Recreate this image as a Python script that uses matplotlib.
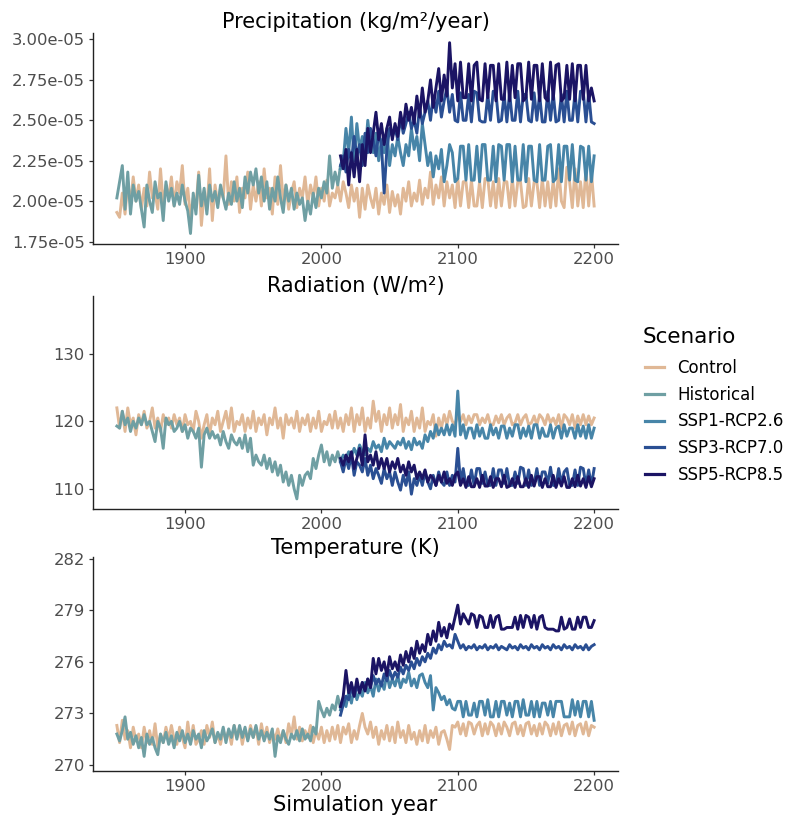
"""
Climate forcing time series (precipitation, radiation, temperature)
for the control, historical and SSP scenarios, stacked in three panels.
"""
import matplotlib
matplotlib.use("Agg")
import matplotlib.pyplot as plt
import numpy as np
from matplotlib.lines import Line2D
from matplotlib.ticker import FormatStrFormatter

# ---- data (2-year steps) ----
ctrl_years = np.arange(1850, 2201, 2)
hist_years = np.arange(1850, 2015, 2)
ssp_years = np.arange(2014, 2201, 2)

scenarios = ["Control", "Historical", "SSP1-RCP2.6", "SSP3-RCP7.0", "SSP5-RCP8.5"]
colors = ["#E0B896", "#6F9FA3", "#4785A8", "#2A4F93", "#1B1464"]

# precipitation, in units of 1e-5 kg/m2/year
prec_ctrl = [
    1.93, 1.90, 2.05, 1.92, 2.12, 1.98, 2.15, 2.00, 2.10, 1.95,
    2.08, 1.97, 2.18, 2.02, 2.05, 1.95, 2.20, 1.98, 2.10, 2.02,
    2.15, 1.97, 2.12, 2.05, 2.22, 1.98, 2.08, 1.90, 2.02, 1.96,
    2.18, 1.85, 2.05, 1.95, 2.20, 1.88, 2.10, 1.98, 2.08, 2.02,
    2.28, 1.98, 2.12, 2.00, 2.15, 1.93, 2.08, 2.02, 2.18, 1.95,
    2.10, 2.00, 2.12, 1.97, 2.20, 2.02, 2.08, 1.92, 2.15, 1.98,
    2.22, 2.00, 2.10, 1.95, 2.05, 2.12, 1.96, 2.08, 2.02, 2.15,
    1.98, 2.10, 2.02, 2.15, 1.97, 2.08, 2.00, 2.13, 1.97, 2.05,
    2.02, 2.10, 2.00, 2.12, 2.05, 1.96, 2.10, 2.00, 2.08, 1.90,
    2.08, 1.95, 2.10, 2.02, 1.96, 2.08, 1.92, 2.05, 1.98, 2.10,
    1.93, 2.06, 1.97, 2.04, 1.92, 2.08, 2.00, 2.12, 1.97, 2.05,
    2.00, 2.13, 1.98, 2.08, 2.02, 2.18, 1.98, 2.10, 2.02, 2.15,
    1.97, 2.12, 2.02, 2.10, 1.96, 2.14, 1.97, 2.12, 2.12, 1.96,
    2.13, 1.97, 1.97, 2.12, 1.96, 2.14, 2.14, 1.97, 2.12, 1.96,
    2.14, 1.97, 2.12, 2.12, 1.96, 2.14, 1.97, 2.12, 2.12, 1.96,
    1.97, 2.14, 1.97, 2.12, 2.12, 1.96, 2.14, 1.97, 2.12, 1.96,
    2.13, 1.97, 2.20, 2.00, 1.96, 2.21, 2.12, 1.96, 2.20, 1.97,
    2.12, 1.96, 2.20, 1.97, 2.18, 1.97]
prec_hist = [
    2.02, 2.12, 2.22, 1.95, 2.18, 1.92, 2.10, 2.00, 2.06, 1.95,
    1.84, 2.10, 2.00, 1.93, 2.12, 2.02, 2.05, 1.88, 2.12, 2.00,
    2.08, 1.97, 2.05, 1.98, 2.10, 2.00, 1.94, 1.80, 2.05, 1.92,
    2.16, 1.97, 2.08, 1.92, 2.10, 2.00, 2.06, 1.96, 2.10, 2.02,
    1.95, 2.05, 1.98, 2.12, 2.00, 2.08, 1.96, 2.15, 2.05, 2.18,
    2.10, 2.20, 2.05, 2.15, 2.00, 2.12, 1.95, 2.08, 2.00, 2.15,
    2.02, 1.93, 2.10, 2.00, 2.08, 1.95, 2.05, 1.98, 2.02, 1.88,
    2.00, 1.92, 2.05, 1.96, 2.08, 2.02, 2.12, 2.05, 2.28, 2.08,
    2.18, 2.10, 2.22]
prec_ssp1 = [
    2.20, 2.24, 2.45, 2.30, 2.52, 2.25, 2.48, 2.32, 2.40, 2.28,
    2.50, 2.35, 2.30, 2.42, 2.25, 2.38, 2.30, 2.45, 2.22, 2.35,
    2.28, 2.40, 2.30, 2.22, 2.35, 2.28, 2.45, 2.32, 2.40, 2.25,
    2.48, 2.35, 2.22, 2.30, 2.15, 2.28, 2.20, 2.32, 2.12, 2.22,
    2.35, 2.30, 2.12, 2.14, 2.34, 2.34, 2.13, 2.35, 2.13, 2.13,
    2.34, 2.12, 2.35, 2.35, 2.13, 2.13, 2.34, 2.12, 2.35, 2.34,
    2.13, 2.35, 2.35, 2.12, 2.34, 2.13, 2.13, 2.35, 2.12, 2.34,
    2.34, 2.13, 2.12, 2.35, 2.13, 2.13, 2.34, 2.35, 2.12, 2.14,
    2.35, 2.12, 2.34, 2.34, 2.13, 2.35, 2.13, 2.12, 2.34, 2.33,
    2.13, 2.34, 2.12, 2.28]
prec_ssp3 = [
    2.22, 2.28, 2.18, 2.32, 2.25, 2.40, 2.28, 2.35, 2.22, 2.42,
    2.30, 2.45, 2.38, 2.28, 2.42, 2.35, 2.05, 2.32, 2.45, 2.40,
    2.45, 2.38, 2.52, 2.42, 2.48, 2.55, 2.45, 2.50, 2.42, 2.58,
    2.48, 2.55, 2.62, 2.50, 2.65, 2.55, 2.68, 2.52, 2.62, 2.70,
    2.55, 2.66, 2.50, 2.49, 2.67, 2.50, 2.50, 2.66, 2.49, 2.68,
    2.67, 2.50, 2.49, 2.49, 2.66, 2.50, 2.68, 2.67, 2.49, 2.50,
    2.66, 2.49, 2.67, 2.50, 2.50, 2.68, 2.49, 2.66, 2.66, 2.50,
    2.49, 2.67, 2.50, 2.66, 2.49, 2.49, 2.68, 2.50, 2.67, 2.49,
    2.50, 2.66, 2.49, 2.68, 2.50, 2.50, 2.67, 2.49, 2.68, 2.68,
    2.49, 2.67, 2.49, 2.48]
prec_ssp5 = [
    2.28, 2.20, 2.32, 2.10, 2.30, 2.15, 2.32, 2.12, 2.35, 2.22,
    2.45, 2.30, 2.42, 2.55, 2.38, 2.48, 2.35, 2.45, 2.52, 2.38,
    2.48, 2.40, 2.55, 2.45, 2.60, 2.50, 2.58, 2.48, 2.65, 2.52,
    2.70, 2.55, 2.62, 2.75, 2.58, 2.70, 2.82, 2.62, 2.78, 2.65,
    2.98, 2.70, 2.85, 2.62, 2.86, 2.64, 2.64, 2.85, 2.62, 2.84,
    2.86, 2.63, 2.62, 2.85, 2.64, 2.84, 2.84, 2.62, 2.85, 2.63,
    2.63, 2.86, 2.62, 2.84, 2.64, 2.85, 2.85, 2.62, 2.64, 2.86,
    2.63, 2.84, 2.84, 2.62, 2.85, 2.64, 2.62, 2.86, 2.63, 2.84,
    2.85, 2.62, 2.64, 2.84, 2.63, 2.85, 2.62, 2.84, 2.84, 2.63,
    2.84, 2.62, 2.70, 2.62]

# radiation, W/m2
rad_ctrl = [
    122.0, 119.0, 121.5, 118.5, 122.0, 119.5, 120.5, 118.0, 121.0, 119.5,
    121.5, 119.0, 120.0, 122.0, 119.0, 120.5, 118.5, 121.0, 119.5, 120.5,
    119.0, 121.0, 119.5, 120.5, 118.5, 121.0, 119.5, 120.0, 118.5, 121.5,
    120.0, 117.5, 119.5, 121.0, 118.0, 120.5, 119.5, 121.5, 118.5, 120.0,
    121.5, 119.0, 122.0, 118.5, 120.0, 119.5, 121.0, 118.5, 120.5, 119.0,
    121.5, 118.5, 120.5, 119.5, 121.0, 118.0, 120.5, 119.5, 122.0, 119.0,
    120.5, 117.5, 121.0, 119.5, 120.5, 119.0, 121.5, 118.5, 120.5, 119.5,
    121.0, 118.5, 120.5, 119.0, 121.5, 118.5, 120.0, 119.5, 121.0, 119.0,
    121.5, 119.0, 120.5, 118.5, 121.0, 119.5, 122.0, 118.5, 121.0, 119.5,
    122.0, 118.5, 120.5, 119.0, 123.0, 120.0, 121.5, 118.5, 121.0, 119.5,
    122.0, 119.0, 121.0, 119.5, 122.5, 118.5, 120.5, 119.5, 121.5, 118.5,
    120.5, 119.0, 122.0, 118.5, 120.0, 119.5, 121.0, 117.8, 120.5, 119.0,
    121.0, 119.5, 121.5, 120.0, 119.5, 121.0, 120.0, 121.0, 119.5, 120.8,
    119.8, 121.0, 121.0, 119.5, 120.5, 119.8, 121.0, 119.5, 119.5, 120.8,
    119.8, 121.0, 119.5, 120.5, 121.0, 119.5, 119.8, 121.0, 119.5, 120.5,
    121.0, 119.5, 119.8, 120.8, 119.5, 121.0, 120.5, 119.5, 121.0, 119.8,
    120.5, 119.5, 121.0, 119.0, 121.0, 120.5, 119.5, 121.0, 119.0, 120.8,
    119.5, 121.0, 119.5, 120.8, 119.5, 120.5]
rad_hist = [
    119.3, 119.0, 121.5, 119.5, 120.5, 118.5, 120.0, 119.0, 120.5, 119.5,
    121.0, 119.5, 120.0, 118.5, 117.0, 120.0, 119.0, 116.0, 120.5, 119.5,
    120.0, 118.5, 119.0, 120.0, 118.5, 119.5, 117.5, 119.0, 118.5, 117.5,
    119.0, 113.2, 118.0, 119.0, 117.5, 118.5, 117.5, 118.0, 116.5, 118.5,
    117.0, 116.0, 118.0, 117.0, 116.5, 117.5, 116.0, 118.0, 115.5, 117.5,
    113.5, 115.0, 114.0, 113.5, 115.0, 113.0, 114.5, 112.5, 114.0, 112.0,
    113.5, 111.0, 112.5, 110.5, 112.0, 110.0, 108.5, 112.0, 110.5, 112.0,
    112.5, 111.5, 114.5, 113.0, 115.0, 116.5, 114.0, 115.5, 113.5, 115.0,
    114.0, 115.5, 114.0]
rad_ssp1 = [
    114.0, 115.0, 114.5, 115.5, 114.8, 116.0, 115.0, 116.5, 115.5, 115.0,
    116.0, 115.5, 117.0, 116.0, 116.5, 115.5, 117.5, 116.0, 117.0, 116.5,
    116.0, 117.0, 116.5, 117.5, 116.0, 117.0, 115.8, 117.5, 116.5, 117.0,
    116.0, 118.0, 117.0, 118.5, 117.5, 119.5, 118.0, 119.0, 118.0, 119.5,
    118.0, 119.5, 117.8, 124.5, 118.0, 119.5, 117.5, 119.0, 119.0, 117.5,
    119.5, 117.8, 119.0, 117.5, 117.5, 119.5, 118.0, 119.0, 117.5, 119.3,
    119.3, 117.5, 119.0, 117.8, 119.5, 119.5, 117.5, 119.0, 117.8, 119.3,
    117.5, 119.5, 119.5, 117.5, 119.0, 117.8, 117.8, 119.5, 117.5, 119.0,
    119.3, 117.5, 119.5, 117.8, 119.0, 119.0, 117.5, 119.5, 117.8, 119.3,
    117.5, 119.5, 117.5, 119.0]
rad_ssp3 = [
    114.0, 112.5, 114.5, 113.0, 115.0, 112.0, 114.0, 113.5, 112.5, 114.5,
    112.0, 113.5, 111.5, 113.0, 112.0, 110.8, 113.0, 111.5, 112.5, 110.5,
    112.5, 111.0, 109.8, 112.0, 110.5, 112.5, 109.2, 111.5, 110.5, 112.0,
    110.5, 112.5, 111.0, 110.0, 112.0, 110.5, 112.5, 111.0, 110.5, 112.5,
    110.5, 112.0, 111.0, 116.0, 111.0, 113.0, 110.5, 110.5, 112.8, 110.5,
    113.0, 113.0, 110.8, 112.5, 110.5, 110.5, 113.0, 110.5, 112.8, 112.8,
    110.8, 113.0, 110.5, 110.5, 112.5, 110.8, 113.2, 113.0, 110.5, 112.8,
    110.5, 110.8, 113.0, 110.5, 112.5, 112.5, 110.8, 113.2, 110.5, 110.5,
    113.0, 110.8, 112.5, 113.0, 110.5, 110.5, 112.8, 110.5, 113.2, 113.0,
    110.5, 112.8, 110.5, 113.0]
rad_ssp5 = [
    114.5, 113.5, 115.0, 114.0, 115.5, 113.0, 114.5, 116.0, 113.5, 118.0,
    114.0, 115.0, 113.5, 115.5, 113.0, 114.5, 113.0, 114.5, 112.5, 114.0,
    113.0, 114.5, 112.5, 113.5, 112.0, 114.0, 112.5, 113.5, 111.5, 112.5,
    111.5, 112.8, 111.0, 112.0, 111.5, 110.5, 112.0, 111.0, 112.5, 110.8,
    111.5, 110.5, 112.0, 112.5, 110.5, 111.5, 110.2, 111.8, 110.3, 110.3,
    111.5, 110.2, 112.0, 110.4, 110.4, 111.8, 110.2, 111.5, 111.5, 110.3,
    112.0, 110.2, 110.4, 111.5, 110.2, 111.8, 110.3, 110.3, 111.5, 110.2,
    112.0, 110.4, 111.8, 111.8, 110.2, 111.5, 110.3, 110.3, 112.0, 110.2,
    111.5, 110.4, 111.8, 110.2, 110.2, 111.5, 110.3, 112.0, 110.4, 111.5,
    110.2, 111.8, 110.3, 111.5]

# temperature, K
temp_ctrl = [
    272.3, 271.3, 272.6, 271.5, 272.0, 271.0, 272.2, 271.4, 271.8, 271.0,
    272.2, 271.3, 272.0, 271.2, 272.4, 271.0, 271.8, 271.3, 272.2, 271.5,
    272.3, 271.5, 271.2, 272.2, 271.6, 271.0, 272.5, 271.3, 272.3, 271.2,
    271.5, 272.0, 271.2, 272.3, 271.6, 272.5, 271.3, 271.8, 271.2, 272.0,
    271.5, 272.0, 271.2, 272.3, 271.6, 272.2, 271.2, 272.0, 271.5, 272.3,
    271.6, 272.2, 271.2, 272.4, 271.5, 272.2, 271.3, 271.9, 271.5, 272.1,
    271.4, 272.0, 271.3, 272.4, 271.7, 272.8, 271.5, 272.2, 271.4, 272.0,
    271.6, 272.3, 271.3, 272.0, 271.5, 272.2, 271.3, 272.0, 271.4, 272.2,
    271.5, 272.3, 271.3, 272.2, 271.8, 272.4, 271.3, 272.0, 271.5, 272.3,
    273.0, 272.2, 271.8, 272.5, 271.6, 272.2, 271.2, 272.0, 271.5, 272.3,
    271.4, 272.2, 271.3, 272.5, 271.6, 272.0, 271.3, 272.3, 271.5, 271.9,
    271.2, 272.0, 271.4, 272.3, 271.3, 272.0, 271.6, 272.2, 271.2, 271.9,
    272.0, 271.5, 270.9, 272.3, 272.2, 272.5, 271.8, 272.4, 271.7, 272.5,
    272.4, 271.8, 272.3, 272.5, 271.7, 272.4, 271.8, 272.5, 272.3, 271.7,
    272.4, 271.8, 272.5, 272.2, 271.7, 272.4, 272.5, 271.8, 272.3, 271.7,
    272.4, 272.5, 271.8, 272.3, 271.7, 272.4, 271.8, 272.5, 272.3, 271.7,
    272.4, 271.8, 272.5, 271.7, 272.3, 272.4, 271.8, 272.5, 271.7, 272.3,
    272.4, 271.8, 272.5, 271.7, 272.3, 272.2]
temp_hist = [
    271.8, 271.4, 272.0, 272.8, 271.5, 271.9, 271.2, 271.7, 271.0, 271.6,
    270.5, 271.8, 271.2, 271.6, 271.0, 270.6, 271.8, 271.3, 271.9, 271.2,
    271.7, 271.0, 271.9, 271.4, 272.0, 271.3, 271.8, 271.2, 272.0, 271.5,
    271.8, 271.0, 272.0, 271.4, 271.7, 272.1, 271.3, 271.9, 271.5, 272.2,
    271.3, 272.1, 271.6, 272.3, 271.5, 272.3, 271.6, 272.2, 271.4, 272.1,
    271.6, 272.3, 271.5, 272.0, 271.4, 271.9, 271.5, 272.1, 270.5, 271.7,
    271.3, 272.0, 271.5, 271.2, 271.8, 271.5, 272.0, 271.4, 272.1, 271.5,
    271.8, 271.4, 272.2, 271.8, 273.7, 273.2, 272.8, 273.3, 272.9, 273.5,
    273.2, 274.0, 273.3]
temp_ssp1 = [
    273.2, 273.8, 273.4, 274.2, 273.6, 274.5, 273.8, 274.3, 274.0, 274.8,
    274.2, 274.6, 274.0, 275.0, 274.3, 274.8, 274.4, 275.3, 274.5, 275.0,
    274.6, 275.2, 274.5, 275.0, 274.8, 275.4, 274.6, 275.0, 274.5, 275.2,
    275.3, 274.8, 274.5, 275.2, 273.2, 274.5, 274.2, 273.8, 274.0, 273.5,
    273.8, 273.3, 273.2, 273.7, 273.7, 272.8, 273.7, 272.9, 272.9, 273.6,
    272.8, 273.7, 273.7, 272.9, 273.8, 272.8, 272.8, 273.7, 272.8, 273.7,
    273.7, 272.9, 273.6, 272.8, 273.7, 273.7, 272.8, 273.8, 272.9, 272.9,
    273.7, 272.8, 273.7, 272.8, 273.6, 273.6, 272.9, 273.7, 272.8, 273.7,
    273.7, 273.7, 272.8, 272.8, 272.8, 273.8, 272.9, 273.7, 272.8, 273.7,
    273.7, 272.8, 273.7, 272.6]
temp_ssp3 = [
    272.9, 273.5, 274.0, 273.8, 274.5, 274.0, 274.6, 274.2, 274.8, 274.4,
    275.0, 274.5, 275.2, 274.7, 275.0, 274.6, 275.3, 274.9, 275.5, 275.0,
    275.4, 275.1, 275.7, 275.3, 275.8, 275.5, 276.0, 275.6, 276.2, 275.8,
    276.3, 276.0, 276.5, 276.2, 276.8, 276.5, 277.0, 276.7, 277.2, 276.9,
    277.0, 276.8, 277.6, 277.2, 276.8, 277.0, 276.7, 276.9, 276.8, 277.0,
    276.7, 276.9, 276.8, 277.0, 276.7, 276.9, 276.8, 277.0, 276.7, 276.9,
    276.8, 276.7, 277.0, 276.8, 276.9, 276.7, 277.0, 276.8, 276.9, 276.7,
    277.0, 276.8, 276.9, 276.7, 277.0, 276.8, 276.9, 276.7, 277.0, 276.8,
    276.9, 276.7, 277.0, 276.8, 276.9, 276.7, 277.0, 276.8, 276.9, 276.7,
    277.0, 276.7, 276.9, 277.0]
temp_ssp5 = [
    273.4, 274.0, 275.5, 274.2, 274.8, 274.0, 275.0, 274.2, 274.8, 274.3,
    275.0, 274.5, 276.2, 275.3, 276.2, 275.5, 276.0, 275.2, 276.3, 275.6,
    276.0, 275.5, 276.4, 275.8, 276.6, 276.0, 276.8, 276.2, 277.2, 276.5,
    277.0, 276.6, 277.6, 277.0, 277.8, 277.2, 278.3, 277.5, 278.0, 277.4,
    278.2, 277.9, 278.6, 279.3, 278.2, 278.8, 278.5, 278.2, 278.8, 278.7,
    278.0, 278.7, 278.6, 278.0, 278.0, 278.7, 278.0, 278.6, 278.7, 277.9,
    277.9, 278.0, 278.0, 278.0, 278.6, 277.9, 278.7, 278.0, 278.7, 278.6,
    278.0, 278.7, 277.9, 278.6, 278.7, 278.0, 277.9, 277.9, 277.9, 277.8,
    277.8, 278.6, 277.9, 278.0, 278.5, 277.9, 277.9, 278.6, 278.0, 278.6,
    278.6, 278.0, 278.0, 278.4]

panels = [
    ("Precipitation (kg/m²/year)",
     [np.array(v) * 1e-5 for v in (prec_ctrl, prec_hist, prec_ssp1, prec_ssp3, prec_ssp5)],
     np.arange(1.75, 3.01, 0.25) * 1e-5, (1.735e-5, 3.04e-5)),
    ("Radiation (W/m²)",
     [rad_ctrl, rad_hist, rad_ssp1, rad_ssp3, rad_ssp5],
     [110, 120, 130], (107.0, 138.6)),
    ("Temperature (K)",
     [temp_ctrl, temp_hist, temp_ssp1, temp_ssp3, temp_ssp5],
     [270, 273, 276, 279, 282], (269.65, 282.1)),
]

# ---- layout ----
W, H = 785, 816
fig = plt.figure(figsize=(W / 100, H / 100), dpi=100)
left, right = 93 / W, 618 / W
boxes = [(33, 244), (296, 509), (557, 771)]
title_y = [22, 286, 548]

for (title, series, yticks, ylim), (top, bot), ty in zip(panels, boxes, title_y):
    ax = fig.add_axes([left, 1 - bot / H, right - left, (bot - top) / H])
    for name, color, vals in zip(scenarios, colors, series):
        xs = ctrl_years if name == "Control" else hist_years if name == "Historical" else ssp_years
        ax.plot(xs, vals, color=color, lw=2.1)
    ax.set_xlim(1832.5, 2217.5)
    ax.set_xticks([1900, 2000, 2100, 2200])
    ax.set_yticks(yticks)
    ax.set_ylim(*ylim)
    if title.startswith("Precip"):
        ax.yaxis.set_major_formatter(FormatStrFormatter("%.2e"))
    for s in ("top", "right"):
        ax.spines[s].set_visible(False)
    for s in ("left", "bottom"):
        ax.spines[s].set_linewidth(1.0)
        ax.spines[s].set_color("#222222")
    ax.tick_params(length=3, width=0.9, color="#333333", labelsize=11.8,
                   labelcolor="#4D4D4D", pad=3)
    fig.text((left + right) / 2, 1 - ty / H, title, ha="center", va="center", fontsize=15)

fig.text((left + right) / 2, 1 - 805 / H, "Simulation year", ha="center", va="center", fontsize=15)

# legend: title drawn separately so the gap to the keys matches
fig.text(643 / W, 1 - 337 / H, "Scenario", ha="left", va="center", fontsize=15.5)
handles = [Line2D([], [], color=c, lw=2.3) for c in colors]
fig.legend(handles, scenarios, loc="upper left",
           bbox_to_anchor=(645 / W, 1 - 359 / H), frameon=False,
           borderpad=0, borderaxespad=0, fontsize=12,
           handlelength=1.15, handletextpad=0.8, labelspacing=0.52)

fig.savefig("out.png", dpi=100)
